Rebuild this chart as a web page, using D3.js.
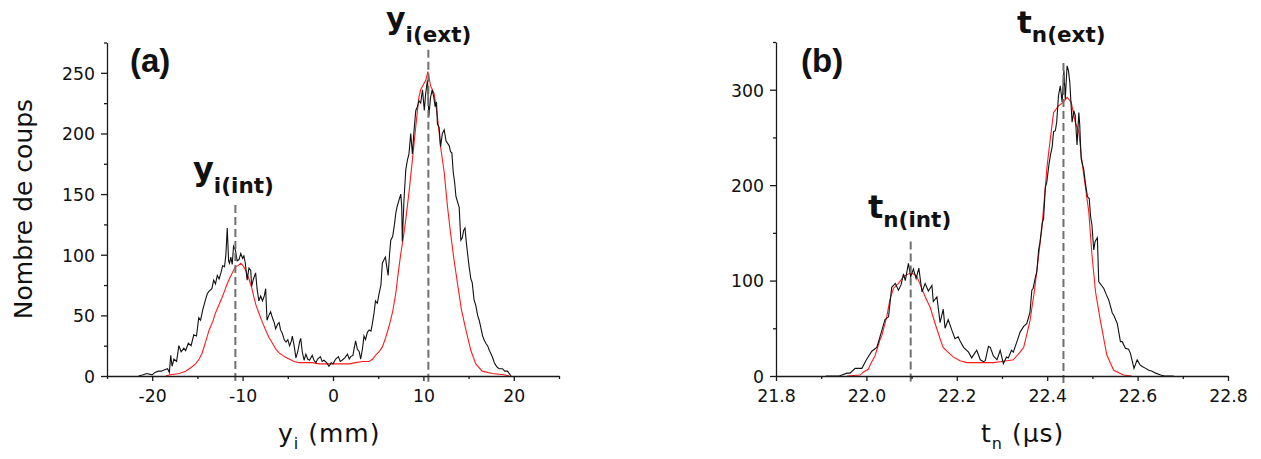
<!DOCTYPE html>
<html><head><meta charset="utf-8">
<script src="https://cdn.jsdelivr.net/npm/d3@7"></script>
<style>body{margin:0;background:#fff} svg{display:block}</style>
</head><body>
<svg id="chart" width="1261" height="459"></svg>
<script>
// ---------- DATA ----------
// Panel (a): y_i (mm) vs counts
const aXTicks = [-20, -10, 0, 10, 20];
const aXMinor = [-25, -15, -5, 5, 15, 25];
const aYTicks = [0, 50, 100, 150, 200, 250];
const aYMinor = [25, 75, 125, 175, 225, 275];
const aBlack = [[-21.5,0],[-21.0,1],[-20.6,2],[-20.0,1],[-19.7,3],[-19.3,4],[-19.0,4],[-18.7,5],[-18.3,6],[-18.1,3],[-17.95,17],[-17.8,8],[-17.6,14],[-17.3,12],[-17.05,25],[-16.8,20],[-16.5,23],[-16.3,21],[-16.0,27],[-15.7,25],[-15.4,34],[-15.1,33],[-14.85,48],[-14.65,46],[-14.4,55],[-14.1,63],[-13.9,68],[-13.7,70],[-13.4,72],[-13.2,79],[-13.0,76],[-12.8,83],[-12.6,80],[-12.4,85],[-12.2,91],[-12.0,90],[-11.85,100],[-11.7,122],[-11.55,95],[-11.45,93],[-11.3,98],[-11.15,92],[-11.0,107],[-10.8,104],[-10.6,95],[-10.4,96],[-10.2,101],[-10.0,97],[-9.86,99],[-9.7,93],[-9.5,79],[-9.3,89],[-9.1,87],[-9.0,74],[-8.8,80],[-8.56,85],[-8.4,72],[-8.2,62],[-8.0,66],[-7.8,62],[-7.6,66],[-7.45,72],[-7.3,46],[-7.1,50],[-6.9,53],[-6.7,48],[-6.5,44],[-6.35,39],[-6.1,43],[-5.96,44],[-5.8,38],[-5.6,35],[-5.4,30],[-5.2,28],[-5.0,30],[-4.8,25],[-4.6,29],[-4.5,33],[-4.3,25],[-4.1,15],[-3.9,20],[-3.7,28],[-3.57,31],[-3.4,20],[-3.2,13],[-3.0,18],[-2.8,14],[-2.6,13],[-2.3,17],[-2.1,13],[-1.9,11],[-1.7,14],[-1.4,16],[-1.2,12],[-1.0,13],[-0.7,11],[-0.45,8],[-0.2,11],[0.0,10],[0.3,14],[0.6,16],[0.8,12],[1.0,13],[1.3,15],[1.6,18],[1.8,14],[1.96,16],[2.2,17],[2.5,29],[2.7,22],[2.9,20],[3.06,14],[3.25,22],[3.43,33],[3.6,30],[3.8,36],[4.0,38],[4.2,37],[4.35,43],[4.54,52],[4.7,62],[4.9,60],[5.1,68],[5.3,75],[5.46,93],[5.65,96],[5.8,98],[5.95,90],[6.1,83],[6.25,100],[6.39,112],[6.6,115],[6.8,125],[6.94,134],[7.1,140],[7.3,145],[7.5,150],[7.6,140],[7.67,111],[7.85,145],[8.05,170],[8.23,178],[8.4,183],[8.6,200],[8.78,183],[8.97,203],[9.16,219],[9.34,222],[9.5,227],[9.7,225],[9.9,236],[10.1,219],[10.25,233],[10.45,244],[10.6,214],[10.8,230],[10.97,236],[11.15,230],[11.3,222],[11.45,226],[11.55,208],[11.74,205],[11.9,189],[12.1,200],[12.3,203],[12.5,194],[12.66,192],[12.85,190],[13.0,185],[13.15,184],[13.3,168],[13.45,160],[13.6,148],[13.8,143],[13.96,139],[14.14,112],[14.3,114],[14.45,120],[14.6,122],[14.75,110],[14.9,100],[15.06,90],[15.25,80],[15.4,77],[15.6,63],[15.8,58],[16.0,50],[16.17,46],[16.35,40],[16.55,33],[16.7,30],[16.9,27],[17.1,25],[17.3,21],[17.5,18],[17.66,15],[17.85,11],[18.0,9],[18.2,7],[18.4,6],[18.75,6],[19.0,4],[19.3,4],[19.5,2],[19.7,0]];
const aRed = [[-18.5,0],[-18.0,1],[-17.0,2],[-16.3,4],[-15.7,7],[-15.2,10],[-14.8,14],[-14.47,19],[-14.1,28],[-13.7,38],[-13.3,45],[-13.0,52],[-12.6,59],[-12.26,65],[-11.95,71],[-11.7,76],[-11.4,81],[-11.15,85],[-10.8,90],[-10.5,91],[-10.2,93],[-9.86,90],[-9.6,86],[-9.3,80],[-9.0,73],[-8.75,65],[-8.5,58],[-8.2,52],[-7.8,44],[-7.45,38],[-7.1,32],[-6.7,27],[-6.3,22],[-5.96,19],[-5.4,16],[-4.85,14],[-4.3,12],[-3.75,11],[-3.0,11],[-2.3,11],[-1.5,10],[-0.45,10],[0.3,10],[1.0,10],[1.77,10],[2.5,11],[3.25,12],[4.0,12],[4.4,14],[4.7,17],[5.1,20],[5.46,24],[5.8,31],[6.2,41],[6.6,53],[6.94,68],[7.2,84],[7.5,101],[7.8,115],[8.05,129],[8.4,151],[8.78,178],[9.16,206],[9.5,230],[9.7,236],[9.9,239],[10.27,244],[10.5,251],[10.65,245],[10.8,239],[11.0,236],[11.18,233],[11.37,224],[11.55,214],[11.9,189],[12.3,168],[12.66,140],[13.0,118],[13.4,95],[13.8,75],[14.2,55],[14.7,38],[15.25,21],[15.8,10],[16.5,4],[17.6,2],[18.9,1],[19.5,0]];
const aMarkerX = [-10.8, 10.55];
const aMarkerTop = [141, 269];
const aMarkerMain = ["y", "y"];
const aMarkerSub = ["i(int)", "i(ext)"];

// Panel (b): t_n (µs) vs counts
const bXTicks = [21.8, 22.0, 22.2, 22.4, 22.6, 22.8];
const bXMinor = [21.9, 22.1, 22.3, 22.5, 22.7];
const bYTicks = [0, 100, 200, 300];
const bYMinor = [50, 150, 250, 350];
const bBlack = [[21.91,0],[21.94,0],[21.957,3],[21.964,3],[21.975,8],[21.99,8],[22.0,17],[22.012,26],[22.023,30],[22.03,41],[22.041,59],[22.049,62],[22.056,93],[22.064,97],[22.071,90],[22.077,96],[22.082,107],[22.086,100],[22.093,118],[22.098,104],[22.104,112],[22.11,102],[22.116,113],[22.123,88],[22.13,97],[22.137,89],[22.145,95],[22.148,78],[22.156,83],[22.163,56],[22.17,70],[22.174,50],[22.181,59],[22.189,48],[22.196,39],[22.203,41],[22.207,37],[22.215,30],[22.226,25],[22.233,19],[22.244,27],[22.252,17],[22.259,15],[22.263,16],[22.27,31],[22.274,30],[22.281,21],[22.289,17],[22.296,27],[22.303,13],[22.31,20],[22.314,19],[22.321,27],[22.325,25],[22.333,36],[22.34,46],[22.348,52],[22.355,55],[22.362,67],[22.366,90],[22.369,92],[22.374,104],[22.377,109],[22.381,132],[22.384,140],[22.389,160],[22.392,165],[22.396,198],[22.399,203],[22.404,222],[22.407,231],[22.411,240],[22.414,256],[22.418,257],[22.421,266],[22.425,294],[22.429,304],[22.433,287],[22.437,320],[22.44,290],[22.444,325],[22.447,320],[22.45,308],[22.455,266],[22.459,278],[22.462,273],[22.466,242],[22.47,276],[22.472,263],[22.475,228],[22.481,216],[22.484,204],[22.489,188],[22.493,186],[22.496,167],[22.499,158],[22.503,132],[22.506,141],[22.511,145],[22.514,99],[22.52,95],[22.525,92],[22.531,85],[22.536,80],[22.544,66],[22.547,64],[22.555,55],[22.562,36],[22.566,36],[22.573,29],[22.58,28],[22.584,24],[22.592,8],[22.599,17],[22.605,12],[22.61,10],[22.618,8],[22.625,6],[22.632,5],[22.64,3],[22.651,1],[22.66,0],[22.68,0]];
const bRed = [[21.957,0],[21.986,1],[21.993,4],[22.004,7],[22.012,15],[22.019,21],[22.03,38],[22.034,42],[22.045,62],[22.052,80],[22.06,92],[22.071,97],[22.082,104],[22.093,107],[22.1,108],[22.111,105],[22.119,96],[22.13,83],[22.141,72],[22.152,55],[22.163,39],[22.17,30],[22.178,26],[22.192,20],[22.207,16],[22.222,14],[22.252,14],[22.281,14],[22.296,15],[22.311,16],[22.325,17],[22.34,25],[22.348,30],[22.355,44],[22.362,58],[22.366,71],[22.372,90],[22.377,110],[22.388,154],[22.4,221],[22.407,249],[22.414,276],[22.425,283],[22.436,287],[22.444,292],[22.453,287],[22.462,266],[22.47,256],[22.477,224],[22.484,200],[22.492,172],[22.499,127],[22.507,88],[22.518,57],[22.532,22],[22.547,6],[22.569,1],[22.587,0]];
const bMarkerX = [22.098, 22.436];
const bMarkerTop = [141, 328];
const bMarkerMain = ["t", "t"];
const bMarkerSub = ["n(int)", "n(ext)"];

// ---------- DRAW ----------
const svg = d3.select("#chart");
const FONT = "'DejaVu Sans', Verdana, sans-serif";
const AXC = "#1a1a1a";

function panel(c) {
  const x = d3.scaleLinear().domain(c.xDomain).range(c.xRange);
  const y = d3.scaleLinear().domain(c.yDomain).range(c.yRange);
  const y0 = c.yRange[0], x0 = c.xRange[0];
  const g = svg.append("g");

  // curves
  const line = d3.line().x(d => x(d[0])).y(d => y(d[1]));
  g.append("path").datum(c.red).attr("d", line).attr("fill", "none")
    .attr("stroke", "#ff1a1a").attr("stroke-width", 1.1);
  g.append("path").datum(c.black).attr("d", line).attr("fill", "none")
    .attr("stroke", "#111").attr("stroke-width", 1.1);

  // dashed markers
  c.markerX.forEach((mx, i) => {
    g.append("line").attr("x1", x(mx)).attr("x2", x(mx))
      .attr("y1", y(c.markerTop[i])).attr("y2", y0 + 8)
      .attr("stroke", "#707070").attr("stroke-width", 2)
      .attr("stroke-dasharray", "8,4");
  });

  // axes
  const xa = g.append("g").attr("transform", `translate(0,${y0})`)
    .call(d3.axisBottom(x).tickValues(c.xTicks).tickSize(5).tickSizeOuter(0).tickFormat(c.xFmt));
  const xm = g.append("g").attr("transform", `translate(0,${y0})`)
    .call(d3.axisBottom(x).tickValues(c.xMinor).tickSize(3).tickFormat(""));
  xm.select(".domain").remove();
  const ya = g.append("g").attr("transform", `translate(${x0},0)`)
    .call(d3.axisLeft(y).tickValues(c.yTicks).tickSize(6).tickSizeOuter(0).tickFormat(d => String(d)));
  const ym = g.append("g").attr("transform", `translate(${x0},0)`)
    .call(d3.axisLeft(y).tickValues(c.yMinor).tickSize(3).tickFormat(""));
  ym.select(".domain").remove();
  [xa, xm, ya, ym].forEach(a => {
    a.selectAll("path,line").attr("stroke", AXC).attr("stroke-width", 1.3);
    a.selectAll("text").attr("font-family", FONT).attr("font-size", "17.3px").attr("fill", "#111");
  });
  xa.selectAll("text").attr("y", 25.5).attr("dy", "0");
  ya.selectAll("text").attr("x", -12).attr("dy", "0.365em");

  // x axis title
  const t = g.append("text").attr("x", c.titleX).attr("y", 442)
    .attr("font-family", FONT).attr("font-size", "25px").attr("fill", "#111")
    .attr("letter-spacing", "1px");
  t.append("tspan").text(c.titleMain);
  t.append("tspan").attr("font-size", "16px").attr("dy", 7).text(c.titleSub);
  t.append("tspan").attr("dy", -7).text(c.titleRest);

  // panel label
  g.append("text").attr("x", c.labelX).attr("y", 72)
    .attr("font-family", "'Liberation Sans', Arial, sans-serif").attr("font-weight", "bold")
    .attr("font-size", "33px").attr("fill", "#111").text(c.panelLabel);

  // marker labels
  c.markerX.forEach((mx, i) => {
    const L = c.markerLab[i];
    const tx = g.append("text").attr("x", L[0]).attr("y", L[1])
      .attr("font-family", FONT).attr("font-weight", "bold").attr("fill", "#111");
    tx.append("tspan").attr("font-size", L[3] + "px").text(c.markerMain[i]);
    tx.append("tspan").attr("font-size", "21.5px").attr("dy", L[2]).text(c.markerSub[i]);
  });
}

panel({
  xDomain: [-25, 25], xRange: [107, 559], yDomain: [0, 275], yRange: [376, 42.5],
  xTicks: aXTicks, xMinor: aXMinor, yTicks: aYTicks, yMinor: aYMinor,
  xFmt: d => String(d), black: aBlack, red: aRed,
  markerX: aMarkerX, markerTop: aMarkerTop, markerMain: aMarkerMain, markerSub: aMarkerSub,
  markerLab: [[193, 180, 12.5, 32], [386, 29, 12.5, 30]],
  titleX: 278, titleMain: "y", titleSub: "i", titleRest: " (mm)",
  labelX: 130, panelLabel: "(a)"
});
panel({
  xDomain: [21.8, 22.8], xRange: [776, 1228], yDomain: [0, 350], yRange: [376, 42],
  xTicks: bXTicks, xMinor: bXMinor, yTicks: bYTicks, yMinor: bYMinor,
  xFmt: d => d.toFixed(1), black: bBlack, red: bRed,
  markerX: bMarkerX, markerTop: bMarkerTop, markerMain: bMarkerMain, markerSub: bMarkerSub,
  markerLab: [[868, 218, 8.5, 32], [1017, 32.5, 9.5, 31]],
  titleX: 981, titleMain: "t", titleSub: "n", titleRest: " (µs)",
  labelX: 801, panelLabel: "(b)"
});

// y axis title
svg.append("text").attr("transform", "translate(32,209) rotate(-90)")
  .attr("text-anchor", "middle").attr("font-family", FONT).attr("font-size", "25px")
  .attr("fill", "#111").text("Nombre de coups");
</script>
</body></html>
